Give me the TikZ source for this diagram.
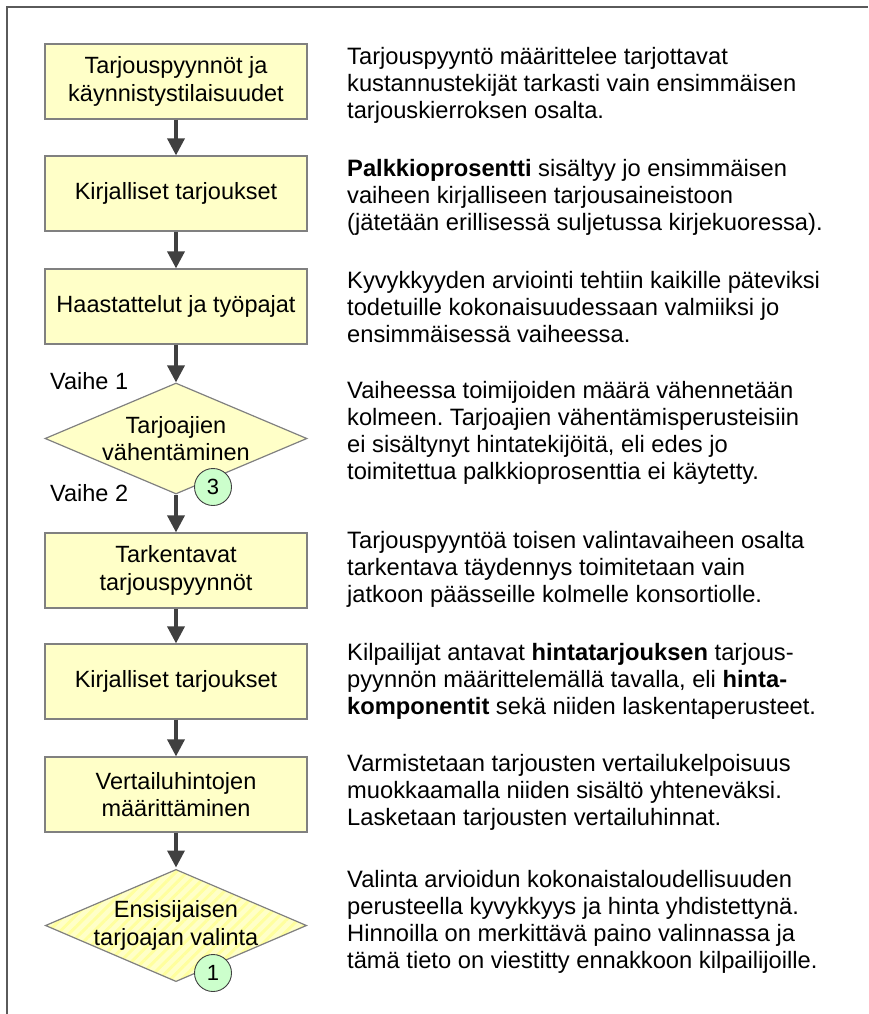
\documentclass[tikz,border=0pt]{standalone}
\usepackage{fontspec}
\setmainfont{Liberation Sans}
\usetikzlibrary{arrows.meta,shapes.geometric,patterns.meta}

\definecolor{boxfill}{HTML}{FFFFC8}
\definecolor{boxline}{HTML}{808080}
\definecolor{arrowcol}{HTML}{404040}
\definecolor{badgefill}{HTML}{CCFFCC}
\definecolor{framecol}{HTML}{5A5A5A}
\definecolor{stripecol}{HTML}{FFFF9E}

\newcommand\flowfont{\fontsize{23.5}{27.7}\selectfont}
\newcommand\notefont{\fontsize{23.7}{27}\selectfont\frenchspacing}
\newcommand\badgefont{\fontsize{22}{24}\selectfont}

\begin{document}
\begin{tikzpicture}[x=1pt,y=-1pt,
  stepbox/.style={draw=boxline, line width=1.2pt, fill=boxfill,
    minimum width=262pt, minimum height=75pt, inner sep=0pt,
    align=center, font=\flowfont},
  decision/.style={diamond, draw=boxline, line width=1.2pt,
    minimum width=262pt, inner sep=0pt},
  dtext/.style={align=center, font=\flowfont, inner sep=0pt},
  flowarrow/.style={draw=arrowcol, line width=3.5pt,
    -{Triangle[width=17pt,length=17pt]}},
  badge/.style={circle, draw=arrowcol, line width=0.9pt, fill=badgefill,
    minimum size=37pt, inner sep=0pt, font=\badgefont},
  note/.style={anchor=base west, inner sep=0pt, font=\notefont},
  phase/.style={anchor=base west, inner sep=0pt, font=\flowfont}]

\useasboundingbox (0,0) rectangle (868,1014);

% outer frame (top and left edges)
\draw[framecol, line width=1.3pt] (7,1014) -- (7,7) -- (868,7);

% process flow
\node[stepbox] (b1) at (176,81.5) {Tarjouspyynnöt ja\\käynnistystilaisuudet};
\node[stepbox] (b2) at (176,193.5) {Kirjalliset tarjoukset};
\node[stepbox] (b3) at (176,306.5) {Haastattelut ja työpajat};
\node[decision, fill=boxfill, minimum height=111pt] (d1) at (176,438.5) {};
\node[dtext] (d1t) at (d1.center) {Tarjoajien\\vähentäminen};
\node[stepbox] (b4) at (176,570.5) {Tarkentavat\\tarjouspyynnöt};
\node[stepbox] (b5) at (176,681.5) {Kirjalliset tarjoukset};
\node[stepbox] (b6) at (176,794.5) {Vertailuhintojen\\määrittäminen};
\node[decision, preaction={fill=boxfill},
  pattern={Lines[angle=45,distance=8pt,line width=3pt]},
  pattern color=stripecol, minimum height=113pt] (d2) at (176,925.5) {};
\node[dtext] (d2t) at (d2.center) {Ensisijaisen\\tarjoajan valinta};

\draw[flowarrow] (b1.south) -- (b2.north);
\draw[flowarrow] (b2.south) -- (b3.north);
\draw[flowarrow] (b3.south) -- (d1.north);
\draw[flowarrow] (d1.south) -- (b4.north);
\draw[flowarrow] (b4.south) -- (b5.north);
\draw[flowarrow] (b5.south) -- (b6.north);
\draw[flowarrow] (b6.south) -- (d2.north);

\node[badge] (c3) at (213,487) {3};
\node[badge] (c1) at (213,973) {1};

\node[phase] (v1) at (50,389) {Vaihe 1};
\node[phase] (v2) at (50,501) {Vaihe 2};

% explanations
\node[note] (n1) at (347,64.5) {\begin{tabular}[t]{@{}l@{}}
Tarjouspyyntö määrittelee tarjottavat\\
kustannustekijät tarkasti vain ensimmäisen\\
tarjouskierroksen osalta.\end{tabular}};
\node[note] (n2) at (347,176.5) {\begin{tabular}[t]{@{}l@{}}
\textbf{Palkkioprosentti} sisältyy jo ensimmäisen\\
vaiheen kirjalliseen tarjousaineistoon\\
(jätetään erillisessä suljetussa kirjekuoressa).\end{tabular}};
\node[note] (n3) at (347,288.5) {\begin{tabular}[t]{@{}l@{}}
Kyvykkyyden arviointi tehtiin kaikille päteviksi\\
todetuille kokonaisuudessaan valmiiksi jo\\
ensimmäisessä vaiheessa.\end{tabular}};
\node[note] (n4) at (347,398.5) {\begin{tabular}[t]{@{}l@{}}
Vaiheessa toimijoiden määrä vähennetään\\
kolmeen. Tarjoajien vähentämisperusteisiin\\
ei sisältynyt hintatekijöitä, eli edes jo\\
toimitettua palkkioprosenttia ei käytetty.\end{tabular}};
\node[note] (n5) at (347,548) {\begin{tabular}[t]{@{}l@{}}
Tarjouspyyntöä toisen valintavaiheen osalta\\
tarkentava täydennys toimitetaan vain\\
jatkoon päässeille kolmelle konsortiolle.\end{tabular}};
\node[note] (n6) at (347,660.7) {\begin{tabular}[t]{@{}l@{}}
Kilpailijat antavat \textbf{hintatarjouksen} tarjous-\\
pyynnön määrittelemällä tavalla, eli \textbf{hinta-}\\
\textbf{komponentit} sekä niiden laskentaperusteet.\end{tabular}};
\node[note] (n7) at (347,771.7) {\begin{tabular}[t]{@{}l@{}}
Varmistetaan tarjousten vertailukelpoisuus\\
muokkaamalla niiden sisältö yhteneväksi.\\
Lasketaan tarjousten vertailuhinnat.\end{tabular}};
\node[note] (n8) at (347,887.7) {\begin{tabular}[t]{@{}l@{}}
Valinta arvioidun kokonaistaloudellisuuden\\
perusteella kyvykkyys ja hinta yhdistettynä.\\
Hinnoilla on merkittävä paino valinnassa ja\\
tämä tieto on viestitty ennakkoon kilpailijoille.\end{tabular}};

\end{tikzpicture}
\end{document}
